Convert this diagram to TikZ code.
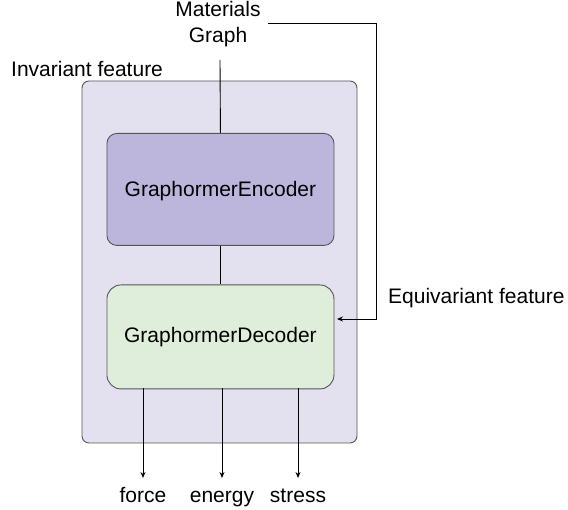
\documentclass[tikz,border=0pt]{standalone}
\usepackage{fontspec}
\setmainfont{Liberation Sans}
\usetikzlibrary{arrows.meta}
\definecolor{outerfill}{HTML}{E3E1F0}
\definecolor{encfill}{HTML}{BCB6DC}
\definecolor{decfill}{HTML}{DEEEDA}
\definecolor{edge}{HTML}{555555}
\begin{document}
\begin{tikzpicture}[x=1pt,y=-1pt,
  lbl/.style={font=\fontsize{21}{26}\selectfont, inner sep=0pt},
  box/.style={draw=edge, line width=0.9pt},
  conn/.style={draw=black, line width=0.9pt},
  arr/.style={conn, -{Stealth[length=6pt,width=5pt]}}]
\useasboundingbox (0,0) rectangle (568,510);
\path[box, fill=outerfill, rounded corners=7pt] (82,81) rectangle (357,443);
\node[box, fill=encfill, rounded corners=10pt, minimum width=227pt, minimum height=112pt, anchor=north west, inner sep=0pt] (enc) at (106.5,133) {};
\node[lbl] at ([yshift=-2pt]enc.center) {GraphormerEncoder};
\node[box, fill=decfill, rounded corners=14pt, minimum width=227pt, minimum height=104pt, anchor=north west, inner sep=0pt] (dec) at (106.5,284.5) {};
\node[lbl] at (dec.center) {GraphormerDecoder};
\node[lbl, anchor=base] (mg1) at (218,17) {Materials};
\node[lbl, anchor=base] (mg2) at (218,43) {Graph};
\node[lbl, anchor=base west] (inv) at (11,77) {Invariant feature};
\node[lbl, anchor=base west] (eqv) at (388,304) {Equivariant feature};
\coordinate (mtop) at (220,60);
\coordinate (rc1) at (268,23);
\coordinate (rc2) at (376,23);
\coordinate (rc3) at (376,319);
\coordinate (rtip) at (337,319);
\draw[conn] (mtop) -- (enc.north);
\draw[conn] (enc.south) -- (dec.north);
\draw[arr] (rc1) -- (rc2) -- (rc3) -- (rtip);
\node[lbl, anchor=base] (force) at (143,503) {force};
\node[lbl, anchor=base] (energy) at (222,503) {energy};
\node[lbl, anchor=base] (stress) at (298,503) {stress};
\coordinate (f0) at (143,388.5);
\coordinate (e0) at (222,388.5);
\coordinate (s0) at (298,388.5);
\draw[arr] (f0) -- (143,478);
\draw[arr] (e0) -- (222,478);
\draw[arr] (s0) -- (298,478);
\end{tikzpicture}
\end{document}
